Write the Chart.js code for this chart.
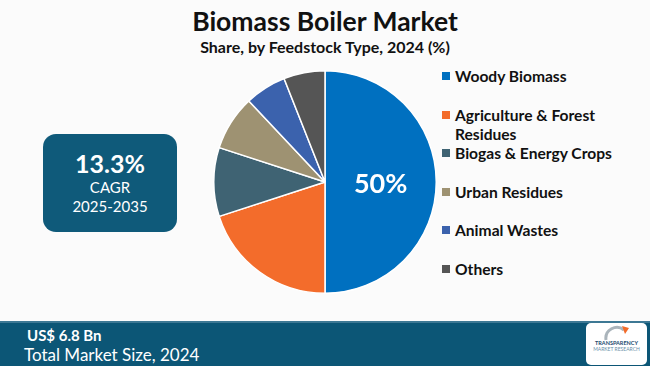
<!DOCTYPE html>
<html>
<head>
<meta charset="utf-8">
<script src="https://cdn.jsdelivr.net/npm/chart.js@4.4.1/dist/chart.umd.min.js"></script>
<style>
  html, body { margin:0; padding:0; }
  body { width:650px; height:366px; background:#fbfbfb; position:relative; overflow:hidden; font-family:Lato, "Open Sans", sans-serif; }
  .title { position:absolute; left:0; width:650px; top:5px; text-align:center; font-weight:700; font-size:26.5px; color:#111; }
  .sub { position:absolute; left:0; width:650px; top:37px; text-align:center; font-weight:700; font-size:16px; color:#111; }
  #pieWrap { position:absolute; left:213px; top:70px; width:224px; height:224px; }
  .cagr { position:absolute; left:43px; top:134px; width:134px; height:98px; background:#0f5a7a; border-radius:13px; color:#fff; text-align:center; }
  .cagr .big { font-weight:700; font-size:25px; margin-top:14px; line-height:30px; }
  .cagr .sm { font-size:15px; line-height:19px; }
  #legend { position:absolute; left:441px; top:0; }
  .lg { position:absolute; white-space:nowrap; font-weight:700; font-size:15.6px; color:#111; line-height:19px; }
  .lg i { position:absolute; left:1px; top:5px; width:8px; height:8px; }
  .lg span { position:absolute; left:14px; top:0; }
  .footer { position:absolute; left:0; top:321px; width:650px; height:45px; background:#0c5676; border-top:2px solid #3d7894; color:#fff; }
  .footer .v { position:absolute; left:27px; top:3px; font-weight:700; font-size:15px; }
  .footer .t { position:absolute; left:24px; top:21px; font-size:17px; }
  .logo { position:absolute; left:586px; top:0px; width:61px; height:42px; background:#fff; border-radius:5px; text-align:center; }
  .logo .a { font-size:5.5px; font-weight:700; color:#1b4a6e; margin-top:17px; }
  .logo .b { font-size:5px; color:#6a8fa8; }
</style>
</head>
<body>
<div class="title">Biomass Boiler Market</div>
<div class="sub">Share, by Feedstock Type, 2024 (%)</div>

<div class="cagr">
  <div class="big">13.3%</div>
  <div class="sm">CAGR</div>
  <div class="sm">2025-2035</div>
</div>

<div id="pieWrap"><canvas id="pie"></canvas></div>
<div id="legend"></div>

<div class="footer">
  <div class="v">US$ 6.8 Bn</div>
  <div class="t">Total Market Size, 2024</div>
  <div class="logo">
    <svg width="30" height="16" style="position:absolute;left:16px;top:2px" viewBox="0 0 30 16">
      <path d="M4 15 A11 11 0 0 1 22 5" stroke="#aab4bb" stroke-width="3" fill="none"/>
      <path d="M20 1 L27 3 L23 9 Z" fill="#f26b2a"/>
    </svg>
    <div class="a">TRANSPARENCY</div>
    <div class="b">MARKET RESEARCH</div>
  </div>
</div>

<script>
// ====== البيانات ======
const labels = ["Woody Biomass", ["Agriculture & Forest", "Residues"], "Biogas & Energy Crops", "Urban Residues", "Animal Wastes", "Others"];
const shares = [50, 20, 10, 8, 6, 6];
const colors = ["#0070c0", "#f36c2b", "#3f6373", "#9e9272", "#3b62ad", "#555555"];
const shownLabels = ["50%", "", "", "", "", ""];

// legend (HTML) from the same arrays
const legend = document.getElementById("legend");
labels.forEach((l, i) => {
  const d = document.createElement("div");
  d.className = "lg";
  d.style.top = (67 + i * 38.6) + "px";
  const txt = Array.isArray(l) ? l.join("<br>") : l;
  d.innerHTML = `<i style="background:${colors[i]}"></i><span>${txt}</span>`;
  legend.appendChild(d);
});

// label inside slice
const sliceLabel = {
  id: "sliceLabel",
  afterDatasetsDraw(chart) {
    const ctx = chart.ctx;
    chart.getDatasetMeta(0).data.forEach((arc, i) => {
      if (!shownLabels[i]) return;
      const p = arc.tooltipPosition();
      ctx.save();
      ctx.fillStyle = "#fff";
      ctx.font = "700 27px Lato, sans-serif";
      ctx.textAlign = "center";
      ctx.textBaseline = "middle";
      ctx.fillText(shownLabels[i], p.x, p.y + 2);
      ctx.restore();
    });
  }
};

new Chart(document.getElementById("pie"), {
  type: "pie",
  data: {
    labels: labels.map(l => Array.isArray(l) ? l.join(" ") : l),
    datasets: [{ data: shares, backgroundColor: colors, borderColor: "#ffffff", borderWidth: 1.5 }]
  },
  options: {
    responsive: true, maintainAspectRatio: false, animation: false,
    layout: { padding: 0 },
    plugins: { legend: { display: false }, tooltip: { enabled: false } }
  },
  plugins: [sliceLabel]
});
</script>
</body>
</html>
